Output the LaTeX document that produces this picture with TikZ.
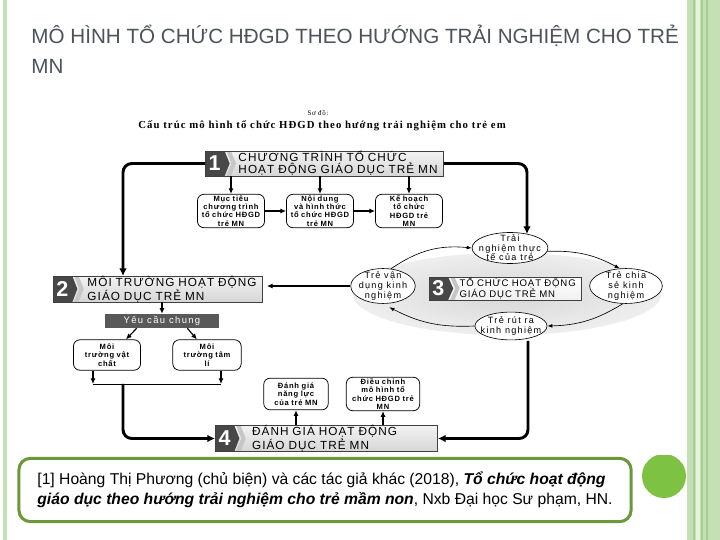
\documentclass[tikz,border=0pt]{standalone}
\usepackage{fontspec}
\setmainfont{Liberation Sans}
\newfontfamily\boxfont[LetterSpace=10]{Liberation Sans}
\newfontfamily\stagefont[LetterSpace=9]{Liberation Sans}
\newfontfamily\ovalfont[LetterSpace=14]{Liberation Sans}
\newfontfamily\capfont[LetterSpace=10]{Liberation Serif}
\usetikzlibrary{shapes.geometric, arrows.meta}
\definecolor{titlegray}{RGB}{77,82,92}
\definecolor{bandgreen}{RGB}{196,225,180}
\definecolor{bandline}{RGB}{165,208,145}
\definecolor{citegreen}{RGB}{106,152,58}
\definecolor{dotgreen}{RGB}{125,194,66}

\begin{document}
\begin{tikzpicture}[>=latex, x=0.02778cm, y=-0.02778cm,
  stage/.style={draw=black!75, line width=0.6pt, top color=gray!10, bottom color=gray!32,
    inner sep=0pt, align=left, font=\stagefont\fontsize{9.3}{9.6}\selectfont,
    path picture={
      \fill[black!72] (path picture bounding box.north west) -- ([xshift=15pt]path picture bounding box.north west)
        -- ([xshift=19pt]path picture bounding box.west) -- ([xshift=15pt]path picture bounding box.south west)
        -- (path picture bounding box.south west) -- cycle;
      \fill[gray!45] ([xshift=16.5pt]path picture bounding box.north west) -- ([xshift=20pt]path picture bounding box.north west)
        -- ([xshift=24pt]path picture bounding box.west) -- ([xshift=20pt]path picture bounding box.south west)
        -- ([xshift=16.5pt]path picture bounding box.south west) -- ([xshift=20.5pt]path picture bounding box.west) -- cycle;},
    label={[text=white, font=\bfseries\fontsize{17}{17}\selectfont, anchor=center, xshift=7.5pt, inner sep=0pt]west:#1}},
  sub/.style={draw, rounded corners=5pt, line width=0.6pt, fill=white, align=center, inner sep=1pt,
    font=\boxfont\bfseries\fontsize{6}{6.6}\selectfont},
  oval/.style={ellipse, draw, fill=white, line width=0.5pt, inner sep=0pt},
  ovaltext/.style={align=center, inner sep=0pt, font=\ovalfont\fontsize{7.2}{7.6}\selectfont},
  link/.style={-{Latex[length=4.5pt,width=4pt]}, line width=0.9pt},
  cyc/.style={-{Latex[length=4pt,width=3pt]}, line width=0.5pt},
  bigline/.style={-{Latex[length=6pt,width=6pt]}, line width=2.3pt, rounded corners=7pt}]

\fill[white] (0,0) rectangle (720,540);
\useasboundingbox (0,0) rectangle (720,540);

% vien trang
\fill[bandgreen] (3,0) rectangle (7,540);
\fill[bandgreen] (687,0) rectangle (720,540);
\fill[bandgreen!40!white] (696,0) rectangle (700,540);
\draw[bandline, line width=0.8pt] (694,0) -- (694,540);
\draw[bandline, line width=0.8pt] (702,0) -- (702,540);
\draw[bandline, line width=0.8pt] (707,0) -- (707,540);

% tieu de
\node[anchor=base west, text=titlegray, font=\fontsize{16.3}{18}\selectfont] (title1) at (27,44) {MÔ HÌNH TỔ CHỨC HĐGD THEO HƯỚNG TRẢI NGHIỆM CHO TRẺ};
\node[anchor=base west, text=titlegray, font=\fontsize{16.3}{18}\selectfont] (title2) at (27,74) {MN};

\node[font=\capfont\fontsize{5.5}{6}\selectfont] (sodo) at (318,113) {Sơ đồ:};
\node[font=\capfont\bfseries\fontsize{8.5}{9}\selectfont] (cap) at (322,126) {Cấu trúc mô hình tổ chức HĐGD theo hướng trải nghiệm cho trẻ em};

% 1
\node[stage=1, text width=188pt, minimum height=19.7pt] (b1) at (324.5,163.5)
  {\hspace*{26pt}CHƯƠNG TRÌNH TỔ CHỨC\\\hspace*{26pt}HOẠT ĐỘNG GIÁO DỤC TRẺ MN};
\node[sub, text width=51pt, minimum height=26pt] (m1) at (231,211) {Mục tiêu\\chương trình\\tổ chức HĐGD\\trẻ MN};
\node[sub, text width=51pt, minimum height=26pt] (m2) at (320,211) {Nội dung\\và hình thức\\tổ chức HĐGD\\trẻ MN};
\node[sub, text width=51pt, minimum height=26pt] (m3) at (409,211) {Kế hoạch\\tổ chức\\HĐGD trẻ\\MN};
\draw[link] (b1.south -| m1) -- (m1);
\draw[link] (b1.south -| m2) -- (m2);
\draw[link] (b1.south -| m3) -- (m3);
\draw[link] (m1) -- (m2);
\draw[link] (m2) -- (m3);

% 2
\node[stage=2, text width=165.5pt, minimum height=20.5pt] (b2) at (158,289)
  {\hspace*{27pt}MÔI TRƯỜNG HOẠT ĐỘNG\\\hspace*{27pt}GIÁO DỤC TRẺ MN};
\node[fill=black!65, text=white, font=\ovalfont\fontsize{7.5}{8}\selectfont, minimum width=90.6pt,
  minimum height=11pt, inner sep=0pt] (yc) at (162,321) {Yêu cầu chung};
\node[sub, text width=51pt, minimum height=24pt] (vc) at (107,355) {Môi\\trường vật\\chất};
\node[sub, text width=52pt, minimum height=24pt] (tl) at (207,355) {Môi\\trường tâm\\lí};
\draw[link] (b2.south -| yc) -- (yc);
\draw[link] ([xshift=-20pt]yc.south) -- ([xshift=15pt]vc.north);
\draw[link] ([xshift=20pt]yc.south) -- ([xshift=-8pt]tl.north);

% 3
\node[ellipse, inner sep=0pt, minimum width=244pt, minimum height=65pt, inner color=gray!32, outer color=gray!13] (ring) at (507,294) {};
\node[stage=3, text width=120.6pt, minimum height=18pt, top color=white, bottom color=gray!12,
  font=\stagefont\fontsize{7.6}{8.4}\selectfont] (b3) at (505.5,288.5)
  {\hspace*{24pt}TỔ CHỨC HOẠT ĐỘNG\\\hspace*{24pt}GIÁO DỤC TRẺ MN};
\node[oval, minimum width=60pt, minimum height=24.5pt, label={[ovaltext]center:Trải\\nghiệm thực\\tế của trẻ}] (tn) at (510,248) {};
\node[oval, minimum width=51pt, minimum height=27.6pt, label={[ovaltext]center:Trẻ vận\\dụng kinh\\nghiệm}] (vd) at (383,286) {};
\node[oval, minimum width=57.5pt, minimum height=27.6pt, label={[ovaltext]center:Trẻ chia\\sẻ kinh\\nghiệm}] (cs) at (626,286) {};
\node[oval, minimum width=57pt, minimum height=22pt, label={[ovaltext]center:Trẻ rút ra\\kinh nghiệm}] (rr) at (511,326) {};
\draw[cyc] (vd.65) to[bend left=20] (tn.west);
\draw[cyc] (tn.-5) to[bend left=15] (cs.110);
\draw[cyc] (cs.-100) to[bend left=15] (rr.east);
\draw[cyc] (rr.west) to[bend left=15] ([yshift=-3pt]vd.-70);
\draw[link, shorten >=3pt] (vd.west) -- (vd.west -| b2.east);

% 4
\node[stage=4, text width=175.7pt, minimum height=19.7pt] (b4) at (326.5,438.5)
  {\hspace*{29pt}ĐÁNH GIÁ HOẠT ĐỘNG\\\hspace*{29pt}GIÁO DỤC TRẺ MN};
\node[sub, text width=49pt, minimum height=25pt] (dg) at (296,394) {Đánh giá\\năng lực\\của trẻ MN};
\node[sub, text width=56pt, minimum height=26pt] (dc) at (383,394) {Điều chỉnh\\mô hình tổ\\chức HĐGD trẻ\\MN};
\draw[link] (b4.north -| dg) -- (dg);
\draw[link] (b4.north -| dc) -- (dc);

% duong lon
\coordinate (l2) at (123,276);
\coordinate (r3) at (527,234);
\coordinate (jl) at (93,384);
\coordinate (jr) at (221,384);
\coordinate (jm) at (123,384);
\coordinate (rb) at (528,341);
\draw[bigline] (b1.west) -| (l2);
\draw[bigline] (b1.east) -| (r3);
\draw[link] (vc.south -| jl) -- (jl);
\draw[link] (tl.south -| jr) -- (jr);
\draw[line width=0.6pt] (jl) -- (jr);
\draw[bigline] (jm) |- (b4.west);
\draw[bigline] (rb) |- (b4.east);

% tai lieu
\node[draw=citegreen, line width=2.4pt, rounded corners=9pt, minimum width=484pt, minimum height=50pt,
  inner sep=5pt, align=left, font=\fontsize{12.4}{15.6}\selectfont] (cite) at (325,490)
  {[1] Hoàng Thị Phương (chủ biện) và các tác giả khác (2018), \textbf{\textit{Tổ chức hoạt động}}\\
   \textbf{\textit{giáo dục theo hướng trải nghiệm cho trẻ mầm non}}, Nxb Đại học Sư phạm, HN.};
\begin{scope}
  \clip (636,456) rectangle (700,520);
  \fill[dotgreen] (664,476) circle[radius=22];
\end{scope}

\end{tikzpicture}
\end{document}
